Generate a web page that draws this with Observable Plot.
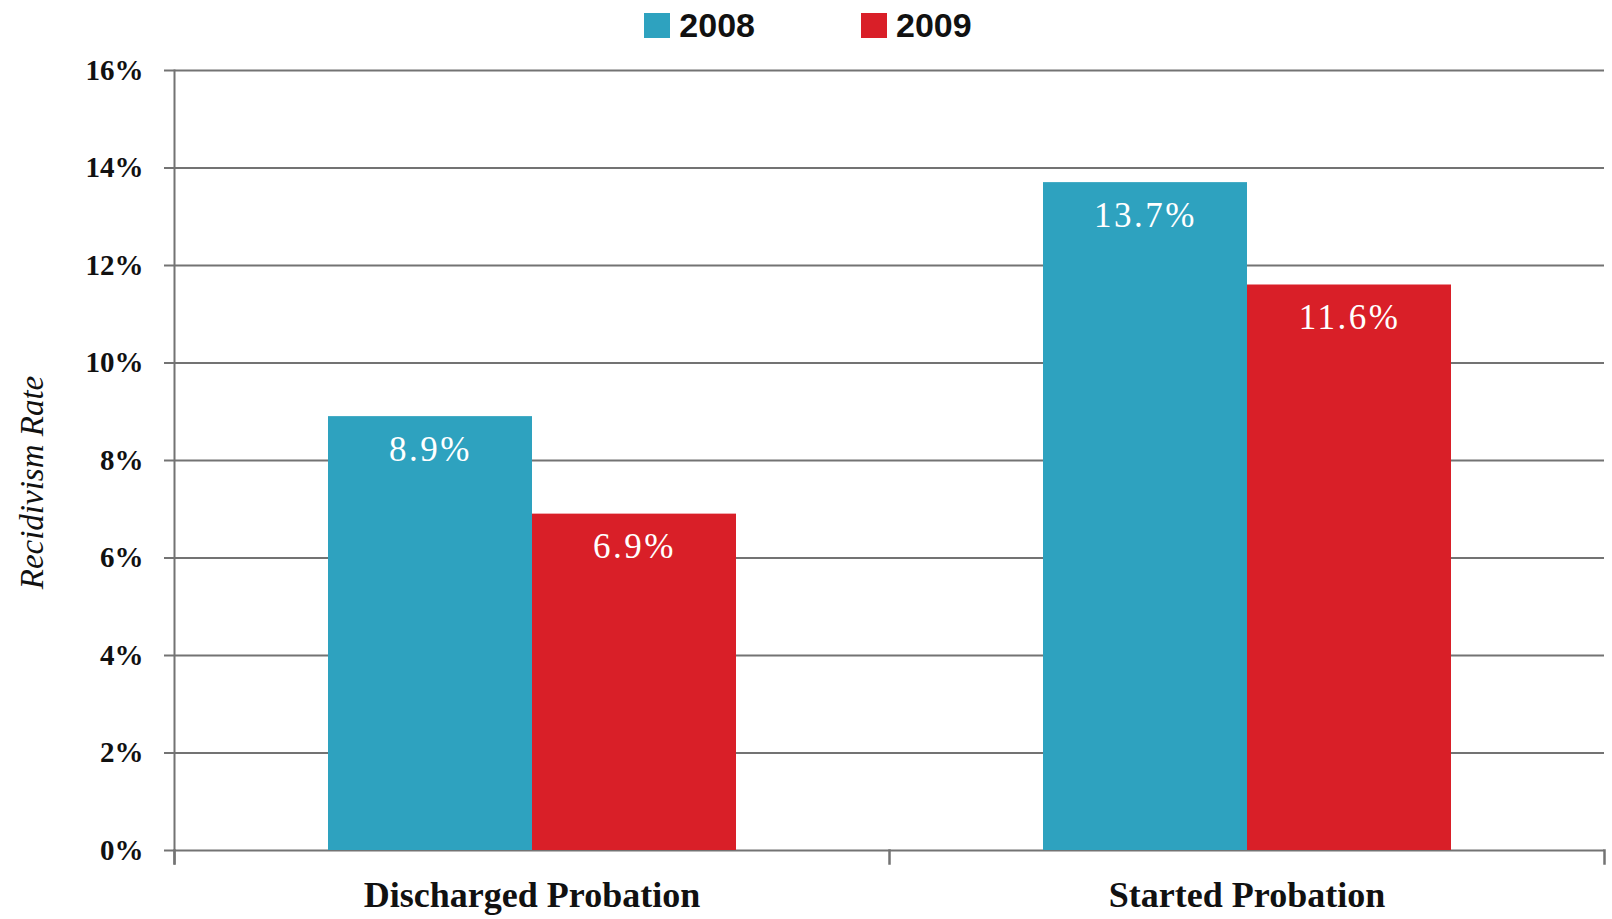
<!DOCTYPE html>
<html>
<head>
<meta charset="utf-8">
<script src="https://cdn.jsdelivr.net/npm/d3@7"></script>
<script src="https://cdn.jsdelivr.net/npm/@observablehq/plot@0.6"></script>
<style>
  html, body { margin: 0; padding: 0; background: #ffffff; }
  #legend {
    height: 50px; display: flex; justify-content: center; align-items: flex-start;
    gap: 106px; font-family: "Liberation Sans", sans-serif; font-weight: bold;
    font-size: 34px; color: #111; padding-left: 4px;
  }
  #legend .item { display: flex; align-items: center; margin-top: 6px; }
  #legend .sw { width: 26px; height: 25px; margin-right: 9px; }
  #chart svg { display: block; }
  .barlabel text { letter-spacing: 2.5px; }
</style>
</head>
<body>
<div id="legend"></div>
<div id="chart"></div>
<script>
const categories = ["Discharged Probation", "Started Probation"];
const years = ["2008", "2009"];
const rate2008 = [8.9, 13.7];
const rate2009 = [6.9, 11.6];
const yTicks = [0, 2, 4, 6, 8, 10, 12, 14, 16];
const colors = ["#2ea2bf", "#d91f28"];

const series = [rate2008, rate2009];
const table = [];
categories.forEach((c, i) => years.forEach((y, j) => table.push({cat: c, year: y, value: series[j][i]})));

const legend = document.getElementById("legend");
years.forEach((y, j) => {
  const it = document.createElement("div");
  it.className = "item";
  it.innerHTML = `<span class="sw" style="background:${colors[j]}"></span><span>${y}</span>`;
  legend.appendChild(it);
});

const grid = "#737373";
const serif = "Liberation Serif, Times New Roman, serif";
const innerH = 869 - 20 - 69;

const chart = Plot.plot({
  width: 1612,
  height: 869,
  marginLeft: 173,
  marginRight: 8,
  marginTop: 20,
  marginBottom: 69,
  fx: {domain: categories, padding: 0},
  x: {domain: years, paddingInner: 0, paddingOuter: 0.75, axis: null},
  y: {domain: [0, 16]},
  color: {domain: years, range: colors},
  marks: [
    Plot.ruleY(yTicks, {stroke: grid, strokeWidth: 2}),
    Plot.frame({anchor: "left", facetAnchor: "left", stroke: grid, strokeWidth: 2, insetBottom: -13}),
    Plot.frame({anchor: "left", stroke: grid, strokeWidth: 2.5, insetTop: innerH, insetBottom: -13}),
    Plot.frame({anchor: "right", facetAnchor: "right", stroke: grid, strokeWidth: 2.5, insetTop: innerH, insetBottom: -13}),
    Plot.barY(table, {fx: "cat", x: "year", y: "value", fill: "year"}),
    Plot.text(table, {
      fx: "cat", x: "year", y: "value",
      text: d => d.value.toFixed(1) + "%",
      dy: 33, fill: "white", fontSize: 35, fontFamily: serif, className: "barlabel"
    }),
    Plot.axisY({
      ticks: yTicks, tickFormat: d => d + "%", tickSize: 10, tickPadding: 21,
      stroke: grid, strokeWidth: 2, fill: "#111", fontSize: 29, fontWeight: "bold",
      fontFamily: serif, label: null
    }),
    Plot.axisFx({
      anchor: "bottom", tickSize: 0, tickPadding: 31, label: null,
      fill: "#111", fontSize: 36, fontWeight: "bold", fontFamily: serif
    }),
    Plot.text(["Recidivism Rate"], {
      frameAnchor: "left", facetAnchor: "left", rotate: -90, dx: -142, dy: 22,
      textAnchor: "middle",
      fontSize: 33, fontStyle: "italic", fontFamily: serif, fill: "#111"
    })
  ]
});
document.getElementById("chart").appendChild(chart);
</script>
</body>
</html>
